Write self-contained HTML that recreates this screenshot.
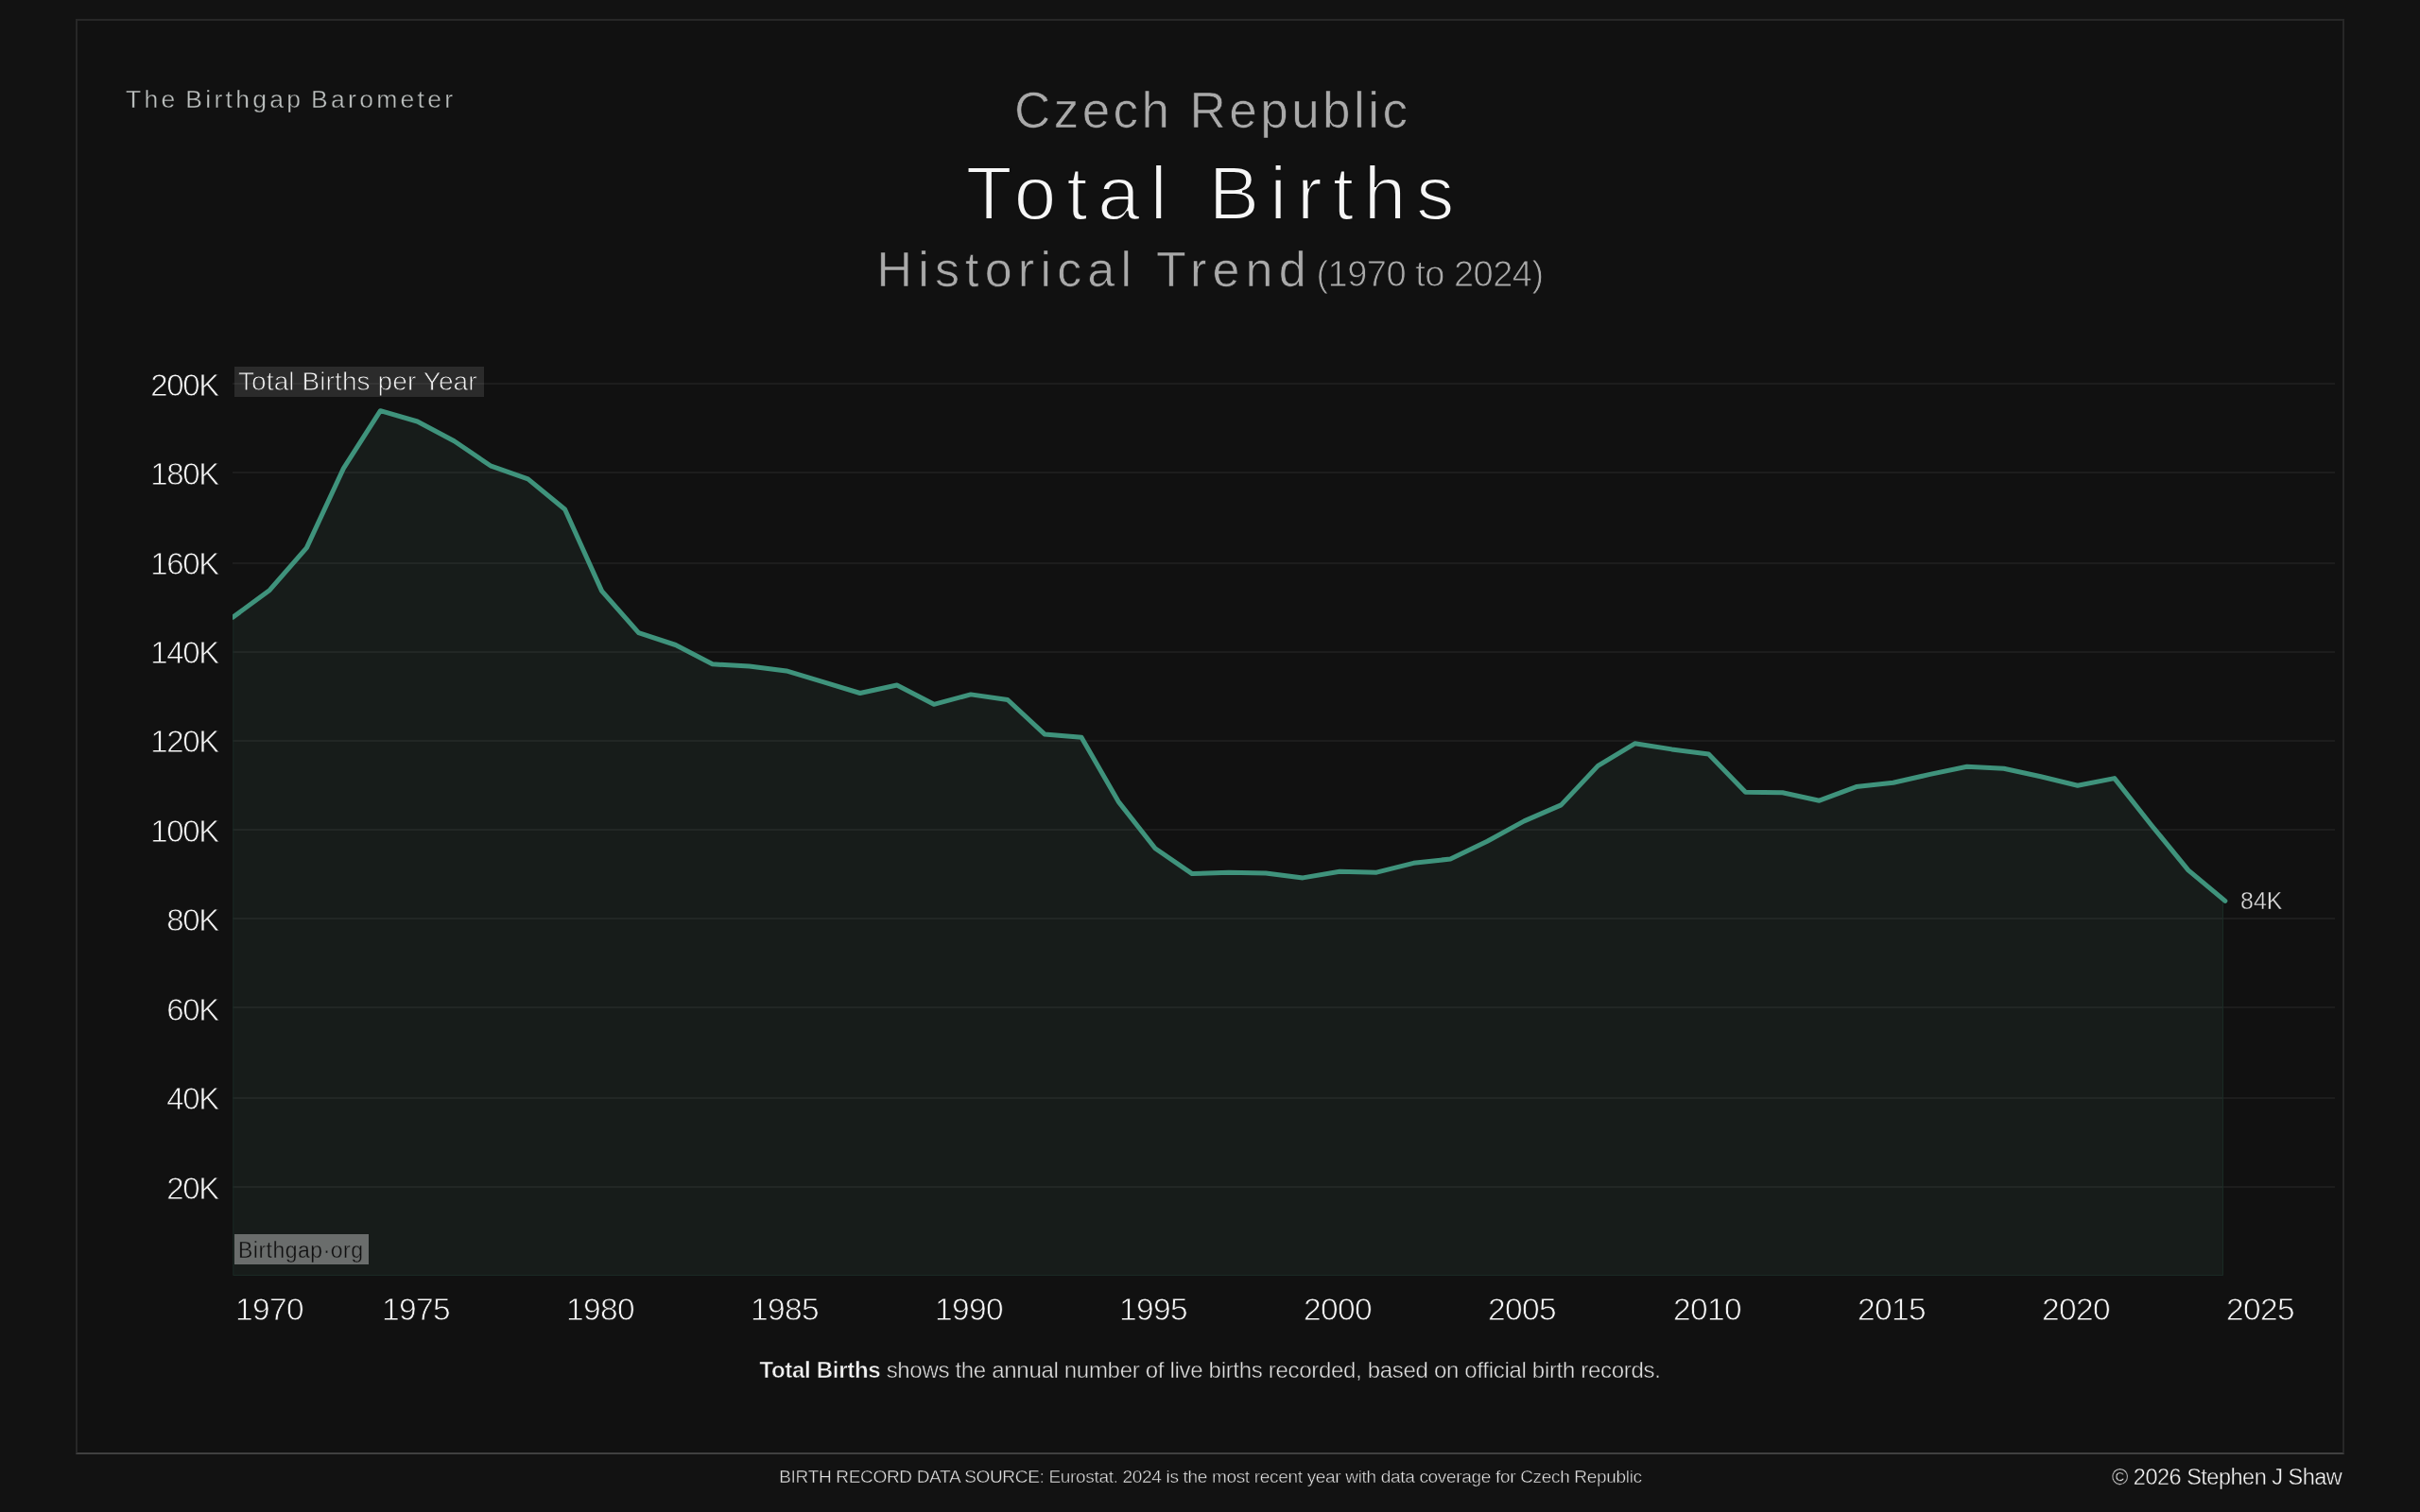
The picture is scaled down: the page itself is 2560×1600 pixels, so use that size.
<!DOCTYPE html>
<html><head><meta charset="utf-8"><style>
*{margin:0;padding:0;box-sizing:border-box}
html,body{width:2560px;height:1600px;overflow:hidden;background:#121212;font-family:"Liberation Sans",sans-serif}
.frame{position:absolute;left:80px;top:20px;width:2400px;height:1519px;border:2px solid #272727;border-bottom-color:#404040;background:#111111}
.t{position:absolute;white-space:nowrap}
body>div{will-change:transform}
.brand{left:133px;top:89.5px;font-size:26.5px;letter-spacing:3.3px;word-spacing:-3px;color:#bcc0bf;-webkit-text-stroke:0.4px #111}
.country{left:0;width:2560px;text-align:center;top:85.5px;font-size:53px;letter-spacing:3.45px;padding-left:5.45px;color:#a9a9a9;-webkit-text-stroke:0.7px #111}
.main{left:0;width:2560px;text-align:center;top:158.5px;font-size:80px;letter-spacing:11px;padding-left:11px;color:#f6f6f6;-webkit-text-stroke:2px #111}
.sub{left:0;width:2560px;text-align:center;top:255px;font-size:52px;color:#a9a9a9;-webkit-text-stroke:0.7px #111}
.sub .ls{letter-spacing:6.2px}
.sub .yr{-webkit-text-stroke:0.9px #111;font-size:38px;letter-spacing:-0.5px;margin-left:4.6px}
.yl{position:absolute;left:100px;width:131px;text-align:right;font-size:33px;color:#f6f6f6;height:36px;line-height:36px;letter-spacing:-1.3px;padding-top:2px;-webkit-text-stroke:0.8px #111}
.xl{position:absolute;top:1366px;width:120px;text-align:center;font-size:33.5px;color:#f6f6f6;letter-spacing:-0.65px;line-height:40px;-webkit-text-stroke:0.8px #111}
.legend{position:absolute;left:248px;top:388px;width:264px;height:32px;background:rgba(255,255,255,0.108);color:#f2f2f2;font-size:28px;letter-spacing:0.1px;line-height:31px;padding-left:4px;white-space:nowrap;-webkit-text-stroke:0.8px #2a2a2a}
.wm{position:absolute;left:248px;top:1306px;width:142px;height:32px;background:rgba(255,255,255,0.362);color:#101010;font-size:23px;line-height:34px;padding-left:4px;letter-spacing:0.5px;white-space:nowrap;-webkit-text-stroke:0.4px #6b6e6d}
.lbl84{position:absolute;left:2370px;top:938px;font-size:25px;color:#dcdcdc;line-height:30px;-webkit-text-stroke:0.4px #111}
.desc{left:0;width:2560px;text-align:center;top:1436px;font-size:24px;color:#e0e0e0;letter-spacing:-0.31px;-webkit-text-stroke:0.45px #111}
.desc b{color:#f2f2f2;-webkit-text-stroke:0.5px #111}
.src{left:0;width:2560px;text-align:center;top:1551.5px;font-size:19px;color:#e4e4e4;letter-spacing:-0.32px;padding-left:1px;-webkit-text-stroke:0.45px #111}
.copy{right:83px;top:1549.5px;font-size:23.5px;letter-spacing:-0.5px;color:#f4f4f4;-webkit-text-stroke:0.4px #111}
svg{position:absolute;left:0;top:0}
</style></head><body>
<div class="frame"></div>
<svg width="2560" height="1600" viewBox="0 0 2560 1600">
<defs><clipPath id="pane"><rect x="246" y="300" width="2240" height="1050"/></clipPath></defs>
<path d="M246.3,653.2 L285.3,624.4 L324.3,579.6 L363.3,495.6 L402.3,434.7 L441.3,446.0 L480.3,466.8 L519.3,493.2 L558.3,506.9 L597.2,539.0 L636.2,625.4 L675.2,669.7 L714.2,682.5 L753.2,702.8 L792.2,705.1 L831.2,709.9 L870.2,721.7 L909.2,733.5 L948.2,725.0 L987.2,745.3 L1026.2,734.9 L1065.2,740.5 L1104.2,776.9 L1143.2,780.2 L1182.2,848.1 L1221.2,897.7 L1260.2,924.6 L1299.1,923.2 L1338.1,924.1 L1377.1,928.9 L1416.1,922.3 L1455.1,923.2 L1494.1,913.3 L1533.1,909.0 L1572.1,890.2 L1611.1,868.9 L1650.1,851.9 L1689.1,810.4 L1728.1,786.8 L1767.1,792.9 L1806.1,798.1 L1845.1,838.2 L1884.1,838.7 L1923.1,847.2 L1962.1,832.6 L2001.0,828.3 L2040.0,819.4 L2079.0,811.3 L2118.0,813.2 L2157.0,821.7 L2196.0,831.2 L2235.0,823.6 L2274.0,873.2 L2313.0,920.8 L2352.0,953.4 L2352.0,1350 L246.3,1350 Z" fill="#171c1a"/>
<rect x="246" y="1255" width="2224" height="2" fill="rgba(255,255,255,0.05)"/><rect x="246" y="1161" width="2224" height="2" fill="rgba(255,255,255,0.05)"/><rect x="246" y="1065" width="2224" height="2" fill="rgba(255,255,255,0.05)"/><rect x="246" y="971" width="2224" height="2" fill="rgba(255,255,255,0.05)"/><rect x="246" y="877" width="2224" height="2" fill="rgba(255,255,255,0.05)"/><rect x="246" y="783" width="2224" height="2" fill="rgba(255,255,255,0.05)"/><rect x="246" y="689" width="2224" height="2" fill="rgba(255,255,255,0.05)"/><rect x="246" y="595" width="2224" height="2" fill="rgba(255,255,255,0.05)"/><rect x="246" y="499" width="2224" height="2" fill="rgba(255,255,255,0.05)"/><rect x="246" y="405" width="2224" height="2" fill="rgba(255,255,255,0.05)"/>
<path d="M246.8,653.2 V1349.5 H2351.5 V953.4" fill="none" stroke="#1a2a24" stroke-width="1"/>
<path d="M246.3,653.2 L285.3,624.4 L324.4,579.6 L363.4,495.6 L402.4,434.7 L441.5,446.0 L480.5,466.8 L519.5,493.2 L558.5,506.9 L597.6,539.0 L636.6,625.4 L675.6,669.7 L714.7,682.5 L753.7,702.8 L792.7,705.1 L831.8,709.9 L870.8,721.7 L909.8,733.5 L948.8,725.0 L987.9,745.3 L1026.9,734.9 L1065.9,740.5 L1105.0,776.9 L1144.0,780.2 L1183.0,848.1 L1222.0,897.7 L1261.1,924.6 L1300.1,923.2 L1339.1,924.1 L1378.2,928.9 L1417.2,922.3 L1456.2,923.2 L1495.3,913.3 L1534.3,909.0 L1573.3,890.2 L1612.3,868.9 L1651.4,851.9 L1690.4,810.4 L1729.4,786.8 L1768.5,792.9 L1807.5,798.1 L1846.5,838.2 L1885.6,838.7 L1924.6,847.2 L1963.6,832.6 L2002.7,828.3 L2041.7,819.4 L2080.7,811.3 L2119.7,813.2 L2158.8,821.7 L2197.8,831.2 L2236.8,823.6 L2275.9,873.2 L2314.9,920.8 L2353.9,953.4" fill="none" stroke="#3f937c" stroke-width="5" stroke-linejoin="round" stroke-linecap="round" clip-path="url(#pane)"/>
</svg>
<div class="t brand">The Birthgap Barometer</div>
<div class="t country">Czech Republic</div>
<div class="t main">Total Births</div>
<div class="t sub"><span class="ls">Historical Trend</span><span class="yr">(1970 to 2024)</span></div>
<div class="yl" style="top:1237.5px">20K</div><div class="yl" style="top:1143.1px">40K</div><div class="yl" style="top:1048.7px">60K</div><div class="yl" style="top:954.3px">80K</div><div class="yl" style="top:859.9px">100K</div><div class="yl" style="top:765.4px">120K</div><div class="yl" style="top:671.0px">140K</div><div class="yl" style="top:576.6px">160K</div><div class="yl" style="top:482.2px">180K</div><div class="yl" style="top:387.8px">200K</div>
<div class="xl" style="left:224.5px">1970</div><div class="xl" style="left:379.5px">1975</div><div class="xl" style="left:574.6px">1980</div><div class="xl" style="left:769.8px">1985</div><div class="xl" style="left:964.9px">1990</div><div class="xl" style="left:1160.0px">1995</div><div class="xl" style="left:1355.2px">2000</div><div class="xl" style="left:1550.3px">2005</div><div class="xl" style="left:1745.5px">2010</div><div class="xl" style="left:1940.7px">2015</div><div class="xl" style="left:2135.8px">2020</div><div class="xl" style="left:2331.0px">2025</div>
<div class="legend">Total Births per Year</div>
<div class="wm">Birthgap·org</div>
<div class="lbl84">84K</div>
<div class="t desc"><b>Total Births</b> shows the annual number of live births recorded, based on official birth records.</div>
<div class="t src">BIRTH RECORD DATA SOURCE: Eurostat. 2024 is the most recent year with data coverage for Czech Republic</div>
<div class="t copy">© 2026 Stephen J Shaw</div>
</body></html>
